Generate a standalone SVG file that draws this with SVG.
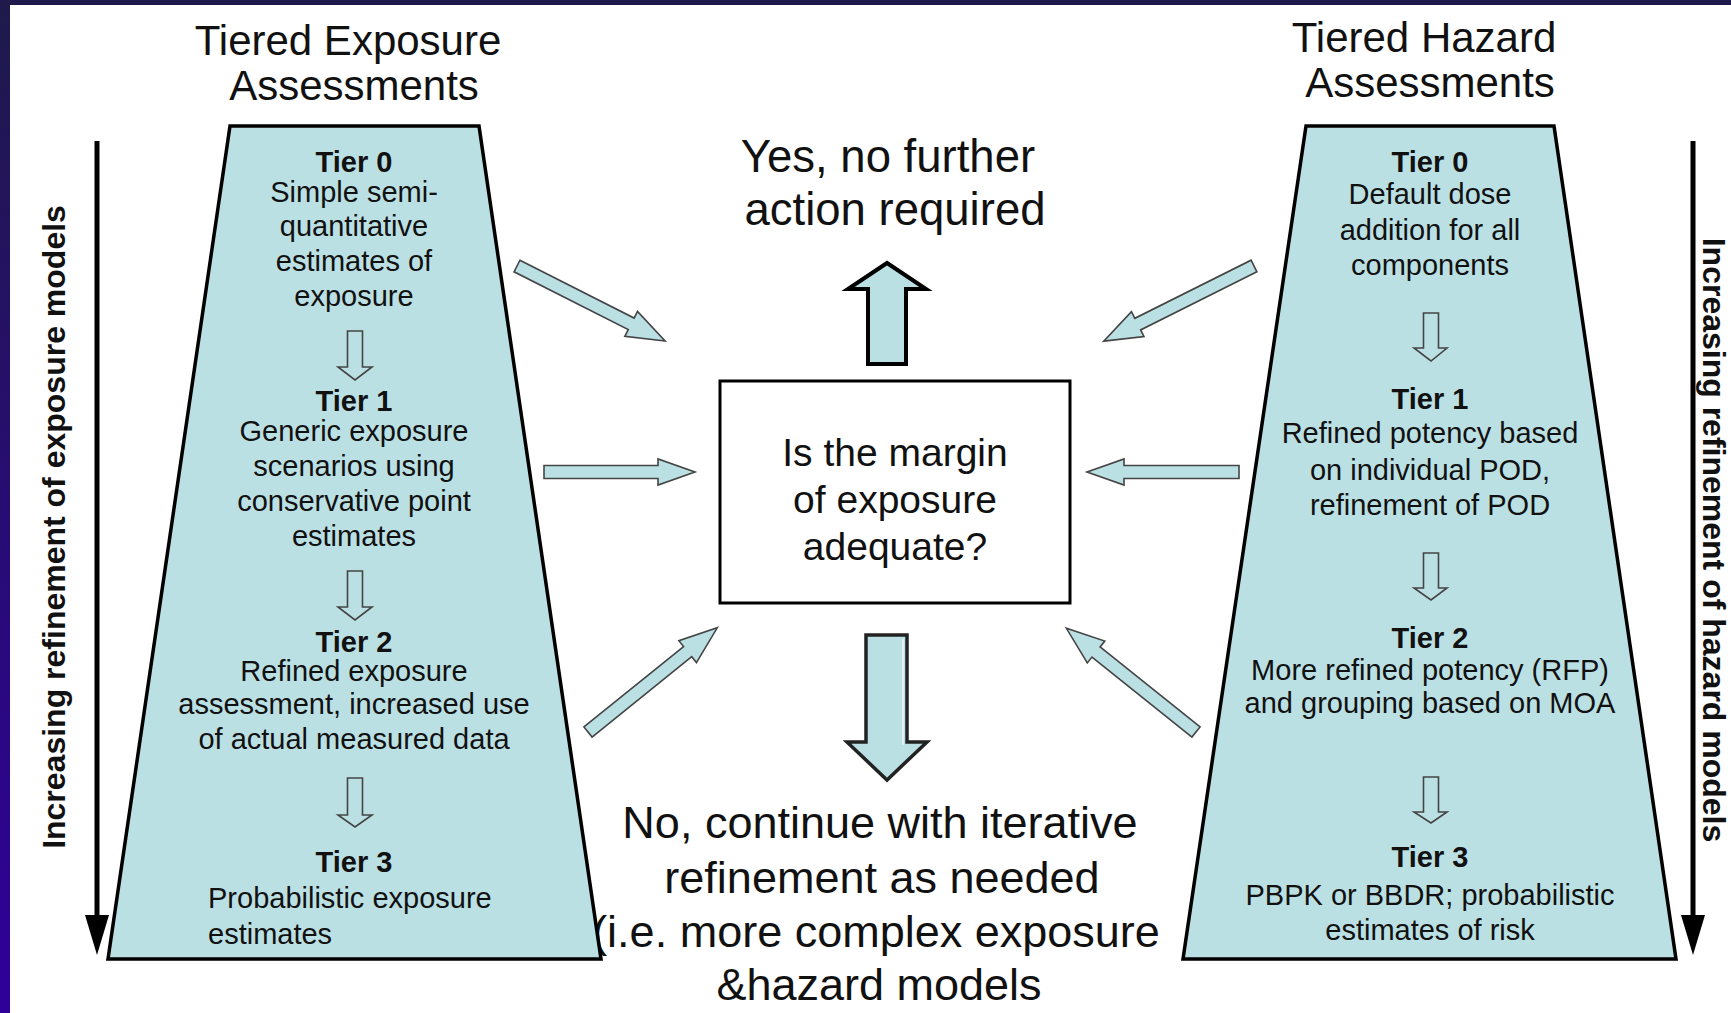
<svg xmlns="http://www.w3.org/2000/svg" width="1731" height="1013" viewBox="0 0 1731 1013">
<defs>
<linearGradient id="frameGrad" x1="0" y1="0" x2="0" y2="1">
<stop offset="0" stop-color="#1f1a4b"/>
<stop offset="1" stop-color="#30009a"/>
</linearGradient>
</defs>
<style>
.t{font-family:"Liberation Sans",Arial,sans-serif;fill:#111;}
.title{font-size:42px;text-anchor:middle;}
.tier{font-size:29px;font-weight:bold;text-anchor:middle;}
.body{font-size:29px;text-anchor:middle;}
.bodyL{font-size:29px;text-anchor:start;}
.side{font-size:32px;font-weight:bold;text-anchor:middle;}
.big{font-size:45px;text-anchor:middle;}
.yes{font-size:45.5px;text-anchor:middle;}
.boxt{font-size:39px;text-anchor:middle;}
.trap{fill:#bbe0e4;stroke:#000;stroke-width:3.5;stroke-linejoin:miter;}
.small{fill:#bbe0e4;stroke:#444;stroke-width:1.6;}
.blk{fill:#bbe0e4;stroke:#444;stroke-width:1.6;}
.vline{stroke:#000;stroke-width:5;fill:none;}
</style>
<rect x="0" y="0" width="1731" height="1013" fill="#fff"/>
<rect x="0" y="0" width="1731" height="5" fill="#1f1a4b"/>
<rect x="0" y="0" width="10" height="1013" fill="url(#frameGrad)"/>

<g id="outcome-no">
<text class="t big" x="880" y="838">No, continue with iterative</text>
<text class="t big" x="882" y="893">refinement as needed</text>
<text class="t big" x="876" y="947">(i.e. more complex exposure</text>
<text class="t big" x="879" y="1000">&amp;hazard models</text>
</g>

<g id="exposure-axis">
<line class="vline" x1="97" y1="141" x2="97" y2="918"/>
<path d="M85,915 L109,915 L97,955 Z" fill="#000"/>
<text class="t side" transform="translate(65,527) rotate(-90)">Increasing refinement of exposure models</text>
</g>

<g id="hazard-axis">
<line class="vline" x1="1693" y1="141" x2="1693" y2="918"/>
<path d="M1681,915 L1705,915 L1693,955 Z" fill="#000"/>
<text class="t side" transform="translate(1703,540) rotate(90)">Increasing refinement of hazard models</text>
</g>

<g id="exposure-tiers">
<text class="t title" x="348" y="55">Tiered Exposure</text>
<text class="t title" x="354" y="100">Assessments</text>
<polygon class="trap" points="230,126 479,126 601,959 108,959"/>
<text class="t tier" x="354" y="172">Tier 0</text>
<text class="t body" x="354" y="202">Simple semi-</text>
<text class="t body" x="354" y="236">quantitative</text>
<text class="t body" x="354" y="271">estimates of</text>
<text class="t body" x="354" y="306">exposure</text>
<path class="small" d="M347.5,331 L362.5,331 L362.5,367 L372,367 L355,380 L338,367 L347.5,367 Z"/>
<text class="t tier" x="354" y="411">Tier 1</text>
<text class="t body" x="354" y="441">Generic exposure</text>
<text class="t body" x="354" y="476">scenarios using</text>
<text class="t body" x="354" y="511">conservative point</text>
<text class="t body" x="354" y="546">estimates</text>
<path class="small" d="M347.5,571 L362.5,571 L362.5,607 L372,607 L355,620 L338,607 L347.5,607 Z"/>
<text class="t tier" x="354" y="652">Tier 2</text>
<text class="t body" x="354" y="681">Refined exposure</text>
<text class="t body" x="354" y="714">assessment, increased use</text>
<text class="t body" x="354" y="749">of actual measured data</text>
<path class="small" d="M347.5,778 L362.5,778 L362.5,815 L372,815 L355,827 L338,815 L347.5,815 Z"/>
<text class="t tier" x="354" y="872">Tier 3</text>
<text class="t bodyL" x="208" y="908">Probabilistic exposure</text>
<text class="t bodyL" x="208" y="944">estimates</text>
</g>

<g id="hazard-tiers">
<text class="t title" x="1424" y="52">Tiered Hazard</text>
<text class="t title" x="1430" y="97">Assessments</text>
<polygon class="trap" points="1306,126 1554,126 1676,959 1183,959"/>
<text class="t tier" x="1430" y="172">Tier 0</text>
<text class="t body" x="1430" y="204">Default dose</text>
<text class="t body" x="1430" y="240">addition for all</text>
<text class="t body" x="1430" y="275">components</text>
<path class="small" d="M1423.5,313 L1438.5,313 L1438.5,348 L1447,348 L1431,361 L1414,348 L1423.5,348 Z"/>
<text class="t tier" x="1430" y="409">Tier 1</text>
<text class="t body" x="1430" y="443">Refined potency based</text>
<text class="t body" x="1430" y="480">on individual POD,</text>
<text class="t body" x="1430" y="515">refinement of POD</text>
<path class="small" d="M1423.5,553 L1438.5,553 L1438.5,588 L1447,588 L1431,600 L1414,588 L1423.5,588 Z"/>
<text class="t tier" x="1430" y="648">Tier 2</text>
<text class="t body" x="1430" y="680">More refined potency (RFP)</text>
<text class="t body" x="1430" y="713">and grouping based on MOA</text>
<path class="small" d="M1423.5,777 L1438.5,777 L1438.5,812 L1447,812 L1431,823 L1414,812 L1423.5,812 Z"/>
<text class="t tier" x="1430" y="867">Tier 3</text>
<text class="t body" x="1430" y="905">PBPK or BBDR; probabilistic</text>
<text class="t body" x="1430" y="940">estimates of risk</text>
</g>

<g id="decision">
<rect x="720" y="381" width="350" height="222" fill="#fff" stroke="#000" stroke-width="3"/>
<text class="t boxt" x="895" y="466">Is the margin</text>
<text class="t boxt" x="895" y="513">of exposure</text>
<text class="t boxt" x="895" y="560">adequate?</text>
</g>

<g id="outcome-yes">
<text class="t yes" x="888" y="172">Yes, no further</text>
<text class="t yes" x="895" y="225">action required</text>
</g>

<g id="connectors">
<path class="blk" transform="translate(517,266) rotate(26.87)" d="M0,-6.5 L128,-6.5 L128,-14 L166,0 L128,14 L128,6.5 L0,6.5 Z"/>
<path class="blk" transform="translate(1254,266) rotate(153.43)" d="M0,-6.5 L130,-6.5 L130,-14 L168,0 L130,14 L130,6.5 L0,6.5 Z"/>
<path class="blk" transform="translate(588,732) rotate(-38.88)" d="M0,-6.5 L128,-6.5 L128,-14 L166,0 L128,14 L128,6.5 L0,6.5 Z"/>
<path class="blk" transform="translate(1196,732) rotate(-141.34)" d="M0,-6.5 L128,-6.5 L128,-14 L166,0 L128,14 L128,6.5 L0,6.5 Z"/>
<path class="blk" d="M544,465.5 L658,465.5 L658,459 L695,472 L658,485 L658,478.5 L544,478.5 Z"/>
<path class="blk" d="M1239,465.5 L1124,465.5 L1124,459 L1087,472 L1124,485 L1124,478.5 L1239,478.5 Z"/>
<path d="M868,364 L868,289 L848,289 L887,263 L926,289 L906,289 L906,364 Z" fill="#bbe0e4" stroke="#000" stroke-width="4" stroke-linejoin="miter"/>
<path d="M866,635 L907,635 L907,742 L927,742 L887,780 L847,742 L866,742 Z" fill="#bbe0e4" stroke="#222" stroke-width="3.5"/>
<path d="M903,639 L903,745" fill="none" stroke="#fff" stroke-width="1"/>
</g>
</svg>
